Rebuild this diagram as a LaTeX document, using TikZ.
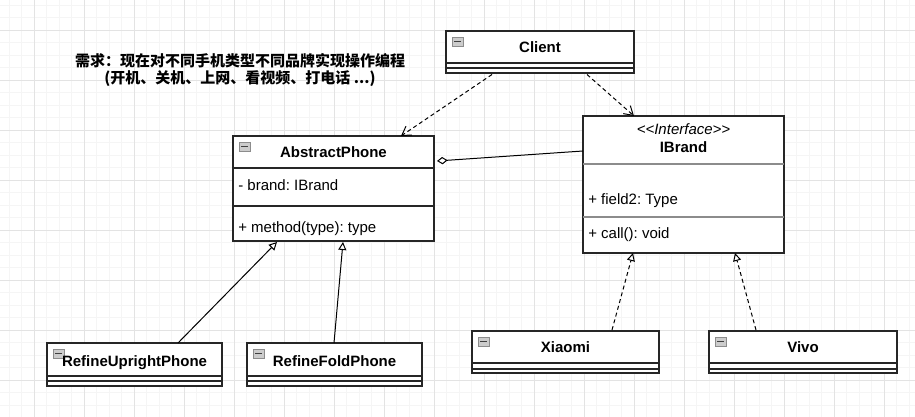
\documentclass[tikz,border=0pt]{standalone}
\usepackage{fontspec}
\setmainfont{Liberation Sans}
\newfontfamily\cjk{Noto Sans CJK SC}
\usetikzlibrary{arrows.meta,calc}
\frenchspacing
\begin{document}
\frenchspacing
\begin{tikzpicture}[x=0.75pt,y=-0.75pt,
  font=\fontsize{11.25}{13.5}\selectfont,
  gridminor/.style={draw=black!4,line width=0.6pt},
  gridmajor/.style={draw=black!11,line width=0.6pt},
  umlcls/.style 2 args={draw=black!85,line width=1pt,fill=white,rectangle,inner sep=0pt,outer sep=0pt,anchor=north west,minimum width=#1*0.75pt,minimum height=#2*0.75pt},
  divider/.style={draw=black!85,line width=0.9pt},
  softdiv/.style={draw=black!45,line width=0.8pt},
  ttl/.style={font=\fontsize{11.25}{13.5}\selectfont\bfseries,inner sep=0pt,anchor=base},
  attr/.style={inner sep=0pt,anchor=base west},
  note/.style={font=\fontsize{11.25}{13.5}\selectfont\cjk\bfseries,inner sep=0pt,anchor=base},
  iconbox/.style={draw=black!45,fill=black!20,line width=0.6pt},
  iconbar/.style={draw=black!75,line width=0.9pt},
  dep/.style={draw=black,line width=0.75pt,dash pattern=on 3pt off 2.25pt,-{Straight Barb[length=6.5pt,width=8pt]}},
  inh/.style={draw=black,line width=0.75pt,-{Triangle[open,length=6pt,width=6pt]}},
  real/.style={inh,dash pattern=on 3pt off 2.25pt},
  agg/.style={draw=black,line width=0.75pt,{Diamond[open,length=8pt,width=5.5pt]}-}
]
\useasboundingbox (0,0) rectangle (915,417);
\fill[white] (0,0) rectangle (915,417);
% grid
\foreach \i in {0,...,72} {\draw[gridminor] ({9+12.5*\i},0) -- ({9+12.5*\i},417);}
\foreach \i in {0,...,33} {\draw[gridminor] (0,{5+12.5*\i}) -- (915,{5+12.5*\i});}
\foreach \i in {0,...,17} {\draw[gridmajor] ({34+50*\i},0) -- ({34+50*\i},417);}
\foreach \i in {0,...,7} {\draw[gridmajor] (0,{30+50*\i}) -- (915,{30+50*\i});}

% note
\node[note] (note1) at (240,66.5) {需求：现在对不同手机类型不同品牌实现操作编程};
\node[note] (note2) at (240,84) {(开机、关机、上网、看视频、打电话 ...)};

% boxes
\node[umlcls={188}{42}] (client) at (446,31) {};
\node[umlcls={201}{105}] (abstract) at (233,136) {};
\node[umlcls={201}{137}] (ibrand) at (583,116) {};
\node[umlcls={175}{43}] (upright) at (47,343) {};
\node[umlcls={175}{43}] (fold) at (247,343) {};
\node[umlcls={187}{42}] (xiaomi) at (472,331) {};
\node[umlcls={188}{42}] (vivo) at (709,331) {};

% compartments
\foreach \n/\a/\b in {client/32/37, upright/33/38, fold/33/38, xiaomi/32/38, vivo/32/38}{
  \draw[divider] ($(\n.north west)+(0,\a)$) -- ($(\n.north east)+(0,\a)$);
  \draw[divider] ($(\n.north west)+(0,\b)$) -- ($(\n.north east)+(0,\b)$);
}
\draw[divider] ($(abstract.north west)+(0,32)$) -- ($(abstract.north east)+(0,32)$);
\draw[divider] ($(abstract.north west)+(0,70)$) -- ($(abstract.north east)+(0,70)$);
\draw[softdiv] ($(ibrand.north west)+(0,48)$) -- ($(ibrand.north east)+(0,48)$);
\draw[softdiv] ($(ibrand.north west)+(0,101)$) -- ($(ibrand.north east)+(0,101)$);

% icons
\foreach \n in {client,abstract,upright,fold,xiaomi,vivo}{
  \draw[iconbox] ($(\n.north west)+(6,6)$) rectangle ($(\n.north west)+(17,15)$);
  \draw[iconbar] ($(\n.north west)+(8,10.5)$) -- ($(\n.north west)+(15,10.5)$);
}

% texts
\node[ttl] (clientT) at (540,53) {Client};
\node[ttl] (abstractT) at (333.5,158) {AbstractPhone};
\node[inner sep=0pt,anchor=base,font=\fontsize{11.25}{13.5}\selectfont\itshape] (ibrandS) at (683.5,135) {<\kern0pt<Interface>\kern0pt>};
\node[ttl] (ibrandT) at (683.5,152.5) {IBrand};
\node[attr] (brandA) at (238,190.5) {- brand: IBrand};
\node[attr] (methodA) at (238,232.5) {+ method(type): type};
\node[attr] (fieldA) at (588,205) {+ field2: Type};
\node[attr] (callA) at (588,239) {+ call(): void};
\node[ttl] (uprightT) at (134.5,367) {RefineUprightPhone};
\node[ttl] (foldT) at (334.5,367) {RefineFoldPhone};
\node[ttl] (xiaomiT) at (565.5,353) {Xiaomi};
\node[ttl] (vivoT) at (803,353) {Vivo};

% connectors
\draw[dep] ($(client.south west)+(46,1.5)$) -- ($(abstract.north west)+(168,0)$);
\draw[dep] ($(client.south west)+(141,1.5)$) -- ($(ibrand.north west)+(51,0)$);
\draw[agg] ($(abstract.north east)+(3,25)$) -- ($(ibrand.north west)+(0,35)$);
\draw[inh] ($(upright.north west)+(131,0)$) -- ($(abstract.south west)+(44,1)$);
\draw[inh] ($(fold.north west)+(87,0)$) -- ($(abstract.south west)+(110,1)$);
\draw[real] ($(xiaomi.north west)+(140,-1)$) -- ($(ibrand.south west)+(50,0)$);
\draw[real] ($(vivo.north west)+(47,-1)$) -- ($(ibrand.south west)+(152,0)$);
\end{tikzpicture}
\end{document}
